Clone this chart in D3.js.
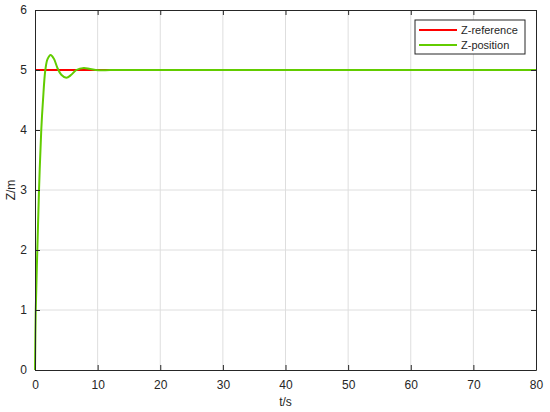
<!DOCTYPE html>
<html>
<head>
<meta charset="utf-8">
<script src="https://cdn.jsdelivr.net/npm/d3@7"></script>
<style>
  body { margin: 0; background: #fff; }
  text { font-family: "Liberation Sans", Arial, sans-serif; fill: #262626; }
</style>
</head>
<body>
<div class="chart"></div>
<script>
// data
var xTicks = [0, 10, 20, 30, 40, 50, 60, 70, 80];
var yTicks = [0, 1, 2, 3, 4, 5, 6];
var refT = [0, 80];
var refZ = [5, 5];
var posT = [0, 0.12, 0.37, 0.64, 1.0, 1.28, 1.65, 2.0, 2.5, 3.0, 3.6, 4.2, 5.0, 5.8, 6.6, 7.8, 8.8, 10.2, 12, 15, 80];
var posZ = [0, 1, 2, 3, 4, 4.5, 5, 5.18, 5.25, 5.19, 5.03, 4.92, 4.87, 4.92, 5.0, 5.035, 5.015, 4.995, 5.0, 5.0, 5.0];
var seriesNames = ["Z-reference", "Z-position"];
var seriesColors = ["#ff0000", "#62cc00"];

var svgWidth = 550;
var svgHeight = 412;
var margin = { top: 10, right: 14, bottom: 42, left: 35 };
var width = svgWidth - margin.left - margin.right;
var height = svgHeight - margin.top - margin.bottom;

var svg = d3.select(".chart").append("svg")
  .attr("width", svgWidth)
  .attr("height", svgHeight);

var chartGroup = svg.append("g")
  .attr("transform", `translate(${margin.left}, ${margin.top})`);

var x = d3.scaleLinear().domain([0, 80]).range([0, width]);
var y = d3.scaleLinear().domain([0, 6]).range([height, 0]);

// grid
chartGroup.append("g").selectAll("line")
  .data(xTicks.slice(1, -1))
  .enter().append("line")
  .attr("x1", d => x(d)).attr("x2", d => x(d))
  .attr("y1", 0).attr("y2", height)
  .attr("stroke", "#dedede").attr("stroke-width", 1);
chartGroup.append("g").selectAll("line")
  .data(yTicks.slice(1, -1))
  .enter().append("line")
  .attr("y1", d => y(d)).attr("y2", d => y(d))
  .attr("x1", 0).attr("x2", width)
  .attr("stroke", "#dedede").attr("stroke-width", 1);

// lines
var line = d3.line()
  .x(d => x(d[0]))
  .y(d => y(d[1]))
  .curve(d3.curveCatmullRom.alpha(0.5));

chartGroup.append("path")
  .datum(d3.zip(refT, refZ))
  .attr("d", line)
  .attr("fill", "none")
  .attr("stroke", seriesColors[0])
  .attr("stroke-width", 2);

chartGroup.append("path")
  .datum(d3.zip(posT, posZ))
  .attr("d", line)
  .attr("fill", "none")
  .attr("stroke", seriesColors[1])
  .attr("stroke-width", 2);

// axes (ticks inward, MATLAB style)
var bottomAxis = d3.axisBottom(x).tickValues(xTicks).tickSizeInner(-5).tickSizeOuter(0).tickPadding(10).tickFormat(d3.format("d"));
var leftAxis = d3.axisLeft(y).tickValues(yTicks).tickSizeInner(-5).tickSizeOuter(0).tickPadding(8).tickFormat(d3.format("d"));
var topAxis = d3.axisTop(x).tickValues(xTicks).tickSizeInner(-5).tickSizeOuter(0).tickFormat("");
var rightAxis = d3.axisRight(y).tickValues(yTicks).tickSizeInner(-5).tickSizeOuter(0).tickFormat("");

chartGroup.append("g").attr("transform", `translate(0, ${height})`).call(bottomAxis);
chartGroup.append("g").call(leftAxis);
chartGroup.append("g").call(topAxis);
chartGroup.append("g").attr("transform", `translate(${width}, 0)`).call(rightAxis);

chartGroup.selectAll(".domain, .tick line").attr("stroke", "#262626");
chartGroup.selectAll(".tick text").attr("font-size", 12).attr("fill", "#262626")
  .style("font-family", "'Liberation Sans', Arial, sans-serif");

// axis labels
chartGroup.append("text")
  .attr("x", width / 2)
  .attr("y", height + 36)
  .attr("text-anchor", "middle")
  .attr("font-size", 12)
  .text("t/s");

chartGroup.append("text")
  .attr("transform", "rotate(-90)")
  .attr("x", -height / 2)
  .attr("y", -20)
  .attr("text-anchor", "middle")
  .attr("font-size", 12)
  .text("Z/m");

// legend
var legend = chartGroup.append("g")
  .attr("transform", `translate(${width - 121}, 10)`);
legend.append("rect")
  .attr("width", 110).attr("height", 34)
  .attr("fill", "#fff").attr("stroke", "#262626").attr("stroke-width", 1);
seriesNames.forEach(function(name, i) {
  legend.append("line")
    .attr("x1", 4).attr("x2", 42)
    .attr("y1", 10 + i * 15).attr("y2", 10 + i * 15)
    .attr("stroke", seriesColors[i]).attr("stroke-width", 2);
  legend.append("text")
    .attr("x", 46).attr("y", 14 + i * 15)
    .attr("font-size", 11)
    .text(name);
});
</script>
</body>
</html>
